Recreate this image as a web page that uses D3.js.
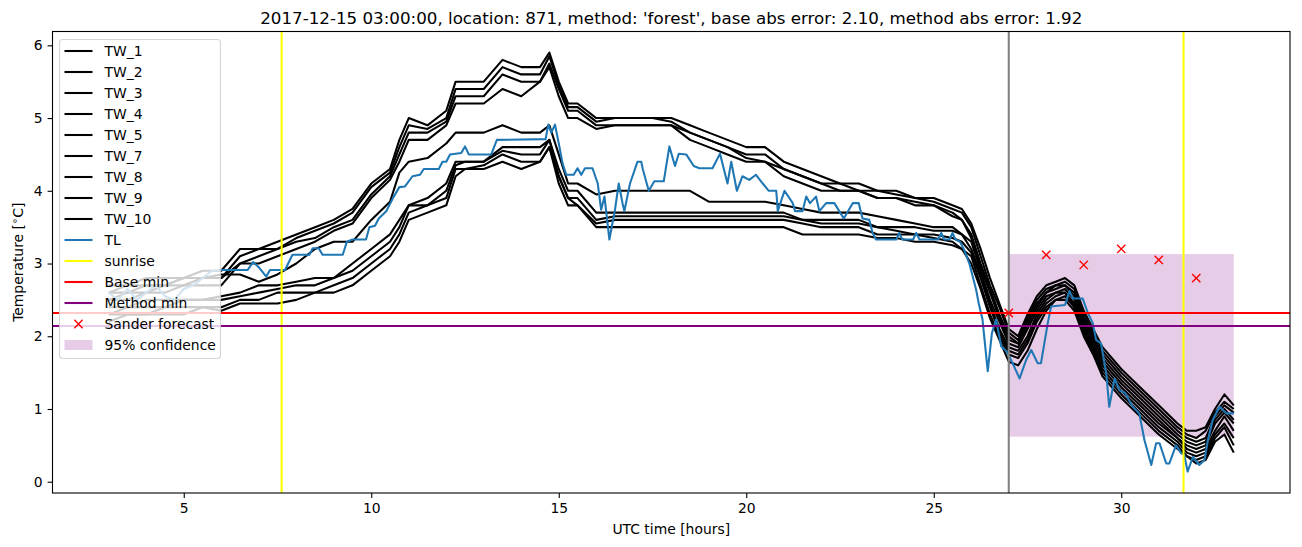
<!DOCTYPE html>
<html>
<head>
<meta charset="utf-8">
<script src="https://cdn.jsdelivr.net/npm/d3@7"></script>
<style>
  html, body { margin: 0; padding: 0; background: #ffffff; }
  svg { display: block; font-family: "DejaVu Sans", sans-serif; }
</style>
</head>
<body>
<svg id="chart" width="1302" height="547"></svg>
<script>
// ---------------- data ----------------
const hours = [3,3.5,4,4.5,5,5.5,6,6.5,7,7.5,8,8.5,9,9.5,10,10.5,10.75,11,11.5,12,12.25,12.5,13,13.5,14,14.5,14.75,15,15.25,15.5,16,16.5,17,17.5,18,18.5,19,19.5,20,20.5,21,21.5,22,22.5,23,23.5,24,24.5,25,25.5,25.75,26,26.25,26.5,26.75,27,27.25,27.5,27.75,28,28.25,28.5,28.75,29,29.25,29.5,30,30.5,31,31.5,31.75,32,32.25,32.5,32.75,33];

const tw1 = [2.7,2.7,2.8,2.8,2.8,2.9,2.9,3.2,3.2,3.3,3.4,3.5,3.6,3.75,4.1,4.3,4.7,5.0,4.9,5.1,5.5,5.5,5.5,5.8,5.7,5.7,5.9,5.5,5.2,5.2,5.0,5.0,5.0,5.0,5.0,4.9,4.8,4.7,4.6,4.6,4.4,4.3,4.2,4.1,4.1,4.0,4.0,3.9,3.9,3.8,3.75,3.55,3.2,2.8,2.45,2.1,2.0,2.3,2.55,2.7,2.75,2.8,2.7,2.35,2.1,1.85,1.55,1.3,1.05,0.8,0.7,0.7,0.75,1.0,1.2,1.05];
const tw2 = [2.6,2.7,2.7,2.7,2.8,2.8,2.8,3.1,3.2,3.2,3.35,3.45,3.55,3.7,4.05,4.25,4.6,4.9,4.85,5.0,5.4,5.4,5.4,5.7,5.6,5.6,5.85,5.45,5.15,5.15,4.95,5.0,5.0,5.0,4.95,4.8,4.7,4.6,4.5,4.5,4.3,4.2,4.1,4.1,4.0,4.0,3.95,3.9,3.85,3.75,3.7,3.5,3.1,2.7,2.4,2.05,1.95,2.25,2.5,2.65,2.7,2.75,2.65,2.3,2.05,1.8,1.5,1.25,1.0,0.75,0.65,0.6,0.7,0.95,1.1,1.0];
const tw3 = [2.5,2.6,2.6,2.7,2.7,2.8,2.8,3.0,3.1,3.2,3.3,3.35,3.5,3.6,3.95,4.2,4.5,4.8,4.8,4.95,5.3,5.3,5.3,5.6,5.5,5.5,5.75,5.4,5.1,5.1,4.9,4.9,4.9,4.9,4.9,4.8,4.7,4.6,4.45,4.4,4.3,4.2,4.1,4.0,4.0,3.9,3.9,3.85,3.8,3.7,3.6,3.4,3.0,2.65,2.3,2.0,1.9,2.2,2.45,2.6,2.7,2.7,2.6,2.25,2.0,1.75,1.45,1.2,0.95,0.7,0.6,0.55,0.6,0.9,1.05,0.95];
const tw4 = [2.5,2.5,2.6,2.6,2.7,2.7,2.7,3.0,3.0,3.1,3.2,3.3,3.45,3.55,3.9,4.15,4.4,4.7,4.7,4.9,5.2,5.2,5.2,5.4,5.3,5.5,5.7,5.3,5.0,5.0,4.85,4.9,4.9,4.9,4.9,4.7,4.6,4.5,4.4,4.4,4.2,4.1,4.0,4.0,4.0,3.9,3.9,3.8,3.8,3.65,3.6,3.35,2.95,2.6,2.25,1.95,1.9,2.15,2.4,2.6,2.65,2.7,2.55,2.2,1.95,1.7,1.4,1.15,0.9,0.65,0.55,0.5,0.55,0.85,1.0,0.85];
const tw5 = [2.6,2.6,2.7,2.7,2.8,2.8,2.85,2.85,2.75,2.85,3.0,3.2,3.3,3.3,3.6,3.85,4.25,4.4,4.45,4.65,4.8,4.8,4.8,4.9,4.8,4.8,4.9,4.5,4.1,4.1,3.95,4.0,4.0,4.0,4.0,4.0,3.85,3.85,3.85,3.85,3.8,3.75,3.7,3.7,3.7,3.65,3.6,3.55,3.5,3.5,3.4,3.3,2.9,2.5,2.2,1.9,1.85,2.1,2.35,2.55,2.6,2.65,2.5,2.2,1.9,1.65,1.35,1.1,0.85,0.6,0.5,0.45,0.5,0.8,0.95,0.8];
const tw7 = [2.4,2.4,2.5,2.5,2.5,2.5,2.55,2.6,2.7,2.7,2.75,2.8,2.8,3.0,3.2,3.4,3.6,3.8,3.9,4.1,4.4,4.4,4.4,4.6,4.6,4.6,4.7,4.3,4.0,4.0,3.7,3.7,3.7,3.7,3.7,3.7,3.7,3.7,3.7,3.7,3.7,3.6,3.6,3.6,3.6,3.5,3.5,3.5,3.45,3.45,3.4,3.2,2.85,2.45,2.1,1.85,1.8,2.0,2.3,2.5,2.6,2.6,2.45,2.15,1.85,1.6,1.3,1.05,0.8,0.6,0.45,0.4,0.45,0.7,0.9,0.7];
const tw8 = [2.3,2.4,2.4,2.4,2.5,2.5,2.5,2.55,2.6,2.65,2.7,2.7,2.8,2.9,3.1,3.3,3.5,3.8,3.8,4.0,4.35,4.4,4.4,4.55,4.5,4.5,4.7,4.2,3.9,3.9,3.6,3.65,3.65,3.65,3.65,3.65,3.65,3.65,3.65,3.65,3.65,3.6,3.55,3.55,3.55,3.5,3.45,3.4,3.4,3.35,3.3,3.15,2.8,2.4,2.05,1.8,1.75,1.95,2.25,2.45,2.55,2.6,2.4,2.1,1.8,1.55,1.25,1.0,0.75,0.55,0.4,0.35,0.4,0.65,0.8,0.6];
const tw9 = [2.3,2.3,2.3,2.4,2.4,2.4,2.4,2.5,2.5,2.6,2.6,2.6,2.7,2.8,3.0,3.2,3.4,3.7,3.8,3.9,4.3,4.3,4.35,4.5,4.4,4.4,4.6,4.2,3.9,3.8,3.55,3.6,3.6,3.6,3.6,3.6,3.6,3.6,3.6,3.6,3.6,3.55,3.5,3.5,3.5,3.4,3.4,3.4,3.35,3.3,3.2,3.1,2.7,2.3,2.0,1.75,1.7,1.9,2.2,2.4,2.5,2.55,2.4,2.05,1.8,1.5,1.2,0.95,0.7,0.5,0.35,0.3,0.35,0.6,0.75,0.5];
const tw10 = [2.2,2.3,2.3,2.3,2.3,2.4,2.35,2.45,2.45,2.45,2.5,2.6,2.6,2.7,2.9,3.1,3.3,3.6,3.7,3.8,4.2,4.3,4.3,4.4,4.3,4.4,4.6,4.1,3.8,3.8,3.5,3.5,3.5,3.5,3.5,3.5,3.5,3.5,3.5,3.5,3.5,3.4,3.4,3.4,3.4,3.35,3.35,3.3,3.3,3.25,3.2,3.0,2.65,2.25,1.95,1.65,1.6,1.8,2.1,2.35,2.5,2.5,2.35,2.0,1.75,1.45,1.15,0.9,0.65,0.45,0.35,0.25,0.3,0.55,0.65,0.4];

const twNames = ["TW_1","TW_2","TW_3","TW_4","TW_5","TW_7","TW_8","TW_9","TW_10"];
const twSeries = [tw1, tw2, tw3, tw4, tw5, tw7, tw8, tw9, tw10];

const tlHours = [3,3.25,3.5,3.75,4,4.25,4.5,4.75,5,5.25,5.5,5.75,6,6.7,6.85,7,7.2,7.3,7.7,7.9,8.35,8.44,8.6,8.7,9.24,9.35,9.5,9.86,9.95,10.1,10.2,10.4,10.6,10.75,10.9,11.1,11.3,11.4,11.8,11.9,12,12.1,12.4,12.5,12.6,13.2,13.35,14.65,14.72,14.8,14.9,15.02,15.1,15.2,15.4,15.5,15.6,15.7,15.9,16.04,16.13,16.22,16.35,16.5,16.6,16.7,16.75,16.9,17.1,17.2,17.24,17.4,17.55,17.8,17.95,18.1,18.2,18.4,18.6,18.75,19.1,19.3,19.5,19.6,19.75,19.9,20.08,20.26,20.44,20.6,20.8,20.84,21.02,21.24,21.3,21.5,21.6,21.7,21.86,21.95,22.13,22.35,22.6,22.84,23,23.1,23.28,23.37,23.46,24,24.08,24.16,24.45,24.53,24.62,25.12,25.2,25.28,25.42,25.5,25.58,25.7,25.8,25.95,26.13,26.2,26.3,26.44,26.55,26.66,26.8,26.93,27.02,27.29,27.46,27.6,27.77,27.86,28.04,28.13,28.5,28.62,28.71,28.97,29.11,29.24,29.33,29.46,29.6,29.68,29.82,29.95,30.1,30.31,30.48,30.62,30.8,30.93,31.02,31.2,31.28,31.46,31.6,31.68,31.77,31.91,32.08,32.22,32.31,32.44,32.62,32.8,33];
const tlValues = [2.6,2.5,2.65,2.5,2.6,2.7,2.55,2.5,2.65,2.7,2.8,2.9,2.91,2.91,3.02,2.95,2.82,2.91,2.91,3.12,3.12,3.21,3.21,3.12,3.12,3.3,3.33,3.33,3.5,3.52,3.62,3.72,3.92,4.05,4.06,4.2,4.22,4.3,4.3,4.4,4.4,4.5,4.52,4.61,4.5,4.5,4.7,4.71,4.91,4.8,4.91,4.6,4.38,4.22,4.22,4.31,4.22,4.31,4.31,4.1,3.74,3.92,3.33,3.74,4.1,3.83,3.72,4.1,4.4,4.4,4.3,4.0,4.13,4.13,4.61,4.34,4.51,4.5,4.34,4.31,4.31,4.51,4.1,4.4,4.0,4.2,4.15,4.22,4.1,4.0,4.0,3.72,4.0,3.83,3.72,3.72,3.92,3.83,3.92,3.72,3.83,3.83,3.62,3.83,3.83,3.62,3.6,3.42,3.33,3.33,3.42,3.33,3.33,3.42,3.33,3.33,3.42,3.33,3.33,3.42,3.33,3.3,3.2,3.0,2.64,2.45,2.23,1.52,2.04,2.23,1.86,1.8,1.72,1.42,1.67,1.81,1.63,1.63,2.18,2.41,2.43,2.62,2.52,2.52,2.32,2.18,1.95,1.9,1.49,1.03,1.42,1.26,1.22,1.03,0.94,0.57,0.23,0.53,0.53,0.25,0.25,0.5,0.39,0.37,0.14,0.34,0.23,0.3,0.57,0.85,1.03,0.94,0.94];

const sunriseHours = [7.61, 31.66];
const baseMin = 2.32;
const methodMin = 2.14;
const issueHour = 27;
const forecastHours = [27, 28, 29, 30, 31, 32];
const forecastValues = [2.32, 3.12, 2.98, 3.20, 3.05, 2.80];
const confHours = [27, 33];
const confRange = [0.62, 3.13];

const xTicks = [5, 10, 15, 20, 25, 30];
const yTicks = [0, 1, 2, 3, 4, 5, 6];
const titleText = "2017-12-15 03:00:00, location: 871, method: 'forest', base abs error: 2.10, method abs error: 1.92";

// ---------------- layout ----------------
const svg = d3.select("#chart");
const plot = { left: 52.5, top: 31.5, right: 1290, bottom: 493 };
const x = d3.scaleLinear().domain([1.5, 34.5]).range([plot.left, plot.right]);
const y = d3.scaleLinear().domain([-0.155, 6.19]).range([plot.bottom, plot.top]);

const FS = 13.9;
const LW = 2.08;

svg.append("defs").append("clipPath").attr("id", "clip")
  .append("rect")
  .attr("x", plot.left).attr("y", plot.top)
  .attr("width", plot.right - plot.left).attr("height", plot.bottom - plot.top);

const g = svg.append("g").attr("clip-path", "url(#clip)");

// confidence band (patch, drawn below lines)
g.append("rect")
  .attr("x", x(confHours[0]))
  .attr("y", y(confRange[1]))
  .attr("width", x(confHours[1]) - x(confHours[0]))
  .attr("height", y(confRange[0]) - y(confRange[1]))
  .attr("fill", "purple").attr("fill-opacity", 0.2);

const line = d3.line().x(d => x(d[0])).y(d => y(d[1]));

twSeries.forEach(vals => {
  g.append("path")
    .datum(hours.map((h, i) => [h, vals[i]]))
    .attr("d", line)
    .attr("fill", "none").attr("stroke", "black")
    .attr("stroke-width", LW).attr("stroke-linejoin", "round").attr("stroke-linecap", "butt");
});

g.append("path")
  .datum(tlHours.map((h, i) => [h, tlValues[i]]))
  .attr("d", line)
  .attr("fill", "none").attr("stroke", "#1f77b4")
  .attr("stroke-width", LW).attr("stroke-linejoin", "round");

sunriseHours.forEach(h => {
  g.append("line")
    .attr("x1", x(h)).attr("x2", x(h))
    .attr("y1", plot.top).attr("y2", plot.bottom)
    .attr("stroke", "yellow").attr("stroke-width", LW);
});

g.append("line")
  .attr("x1", plot.left).attr("x2", plot.right)
  .attr("y1", y(baseMin)).attr("y2", y(baseMin))
  .attr("stroke", "red").attr("stroke-width", LW);

g.append("line")
  .attr("x1", plot.left).attr("x2", plot.right)
  .attr("y1", y(methodMin)).attr("y2", y(methodMin))
  .attr("stroke", "purple").attr("stroke-width", LW);

g.append("line")
  .attr("x1", x(issueHour)).attr("x2", x(issueHour))
  .attr("y1", plot.top).attr("y2", plot.bottom)
  .attr("stroke", "gray").attr("stroke-width", LW);

const MS = 4.15;
function drawX(sel, cx, cy) {
  sel.append("path")
    .attr("d", `M${cx - MS},${cy - MS}L${cx + MS},${cy + MS}M${cx - MS},${cy + MS}L${cx + MS},${cy - MS}`)
    .attr("stroke", "red").attr("stroke-width", 1.4).attr("fill", "none");
}
forecastHours.forEach((h, i) => drawX(g, x(h), y(forecastValues[i])));

// ---------------- axes ----------------
const axisG = svg.append("g");
axisG.append("rect")
  .attr("x", plot.left).attr("y", plot.top)
  .attr("width", plot.right - plot.left).attr("height", plot.bottom - plot.top)
  .attr("fill", "none").attr("stroke", "black").attr("stroke-width", 1.1);

const xAxis = d3.axisBottom(x).tickValues(xTicks).tickSize(4.9).tickPadding(4.9).tickFormat(d3.format("d"));
const xa = axisG.append("g").attr("transform", `translate(0,${plot.bottom})`).call(xAxis);
const yAxis = d3.axisLeft(y).tickValues(yTicks).tickSize(4.9).tickPadding(4.9).tickFormat(d3.format("d"));
const ya = axisG.append("g").attr("transform", `translate(${plot.left},0)`).call(yAxis);
[xa, ya].forEach(a => {
  a.select(".domain").remove();
  a.selectAll(".tick line").attr("stroke", "black").attr("stroke-width", 1.1);
  a.selectAll(".tick text").attr("fill", "black")
    .style("font-family", "DejaVu Sans").style("font-size", FS + "px");
});

svg.append("text")
  .attr("x", (plot.left + plot.right) / 2).attr("y", 534)
  .attr("text-anchor", "middle").style("font-size", FS + "px").attr("fill", "black")
  .text("UTC time [hours]");

const yl = svg.append("text")
  .attr("transform", `translate(23,${(plot.top + plot.bottom) / 2}) rotate(-90)`)
  .attr("text-anchor", "middle").style("font-size", FS + "px").attr("fill", "black");
yl.append("tspan").text("Temperature [");
yl.append("tspan").attr("dy", -5).style("font-size", "10px").text("∘");
yl.append("tspan").attr("dy", 5).text("C]");

svg.append("text")
  .attr("x", (plot.left + plot.right) / 2).attr("y", 23.5)
  .attr("text-anchor", "middle").style("font-size", "16.7px").attr("fill", "black")
  .text(titleText);

// ---------------- legend ----------------
const legendItems = twNames.map(n => ({ label: n, type: "line", color: "black" }))
  .concat([
    { label: "TL", type: "line", color: "#1f77b4" },
    { label: "sunrise", type: "line", color: "yellow" },
    { label: "Base min", type: "line", color: "red" },
    { label: "Method min", type: "line", color: "purple" },
    { label: "Sander forecast", type: "marker", color: "red" },
    { label: "95% confidence", type: "patch", color: "purple" }
  ]);

const lg = svg.append("g");
lg.append("rect")
  .attr("x", 59.5).attr("y", 39.5).attr("width", 161).attr("height", 319)
  .attr("rx", 3).attr("ry", 3)
  .attr("fill", "white").attr("fill-opacity", 0.8)
  .attr("stroke", "#cccccc").attr("stroke-opacity", 0.8).attr("stroke-width", 1.1);

legendItems.forEach((it, i) => {
  const cy = 51 + 21 * i;
  if (it.type === "line") {
    lg.append("line").attr("x1", 64.5).attr("x2", 92.5).attr("y1", cy).attr("y2", cy)
      .attr("stroke", it.color).attr("stroke-width", LW);
  } else if (it.type === "marker") {
    drawX(lg, 78.5, cy);
  } else {
    lg.append("rect").attr("x", 64.5).attr("y", cy - 5).attr("width", 28).attr("height", 10)
      .attr("fill", it.color).attr("fill-opacity", 0.2);
  }
  lg.append("text").attr("x", 104.5).attr("y", cy + 5)
    .style("font-size", FS + "px").attr("fill", "black").text(it.label);
});
</script>
</body>
</html>
